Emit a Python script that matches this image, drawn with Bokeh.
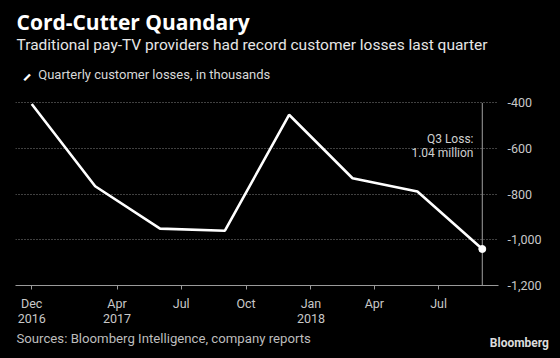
from datetime import datetime
from bokeh.plotting import figure
from bokeh.models import (Range1d, FixedTicker, NumeralTickFormatter, Label, ColumnDataSource,
                          DatetimeAxis)
from bokeh.embed import file_html
from bokeh.resources import INLINE

# ---- data ----
dates = [datetime(2016, 12, 1), datetime(2017, 3, 1), datetime(2017, 6, 1), datetime(2017, 9, 1),
         datetime(2017, 12, 1), datetime(2018, 3, 1), datetime(2018, 6, 1), datetime(2018, 9, 1)]
losses = [-405, -765, -951, -960, -452, -730, -788, -1040]

tick_dates = [datetime(2016, 12, 1), datetime(2017, 4, 1), datetime(2017, 7, 1), datetime(2017, 10, 1),
              datetime(2018, 1, 1), datetime(2018, 4, 1), datetime(2018, 7, 1)]
tick_months = ["Dec", "Apr", "Jul", "Oct", "Jan", "Apr", "Jul"]
year_dates = [datetime(2016, 12, 1), datetime(2017, 4, 1), datetime(2018, 1, 1)]
year_labels = ["2016", "2017", "2018"]
y_ticks = [-1200, -1000, -800, -600, -400]

title_text = "Cord-Cutter Quandary"
subtitle_text = "Traditional pay-TV providers had record customer losses last quarter"
legend_text = "Quarterly customer losses, in thousands"
note_lines = ["Q3 Loss:", "1.04 million"]
source_text = "Sources: Bloomberg Intelligence, company reports"
brand_text = "Bloomberg"

FONT = "Roboto"
EPOCH = datetime(1970, 1, 1)


def ms(d):
    return int((d - EPOCH).total_seconds() * 1000)


tick_ms = [ms(d) for d in tick_dates]
year_ms = [ms(d) for d in year_dates]

p = figure(width=560, height=358, x_axis_type="datetime", y_axis_location="right",
           x_range=Range1d(datetime(2016, 11, 8), datetime(2018, 9, 24)),
           y_range=Range1d(-1200, -385),
           output_backend="svg", toolbar_location=None,
           min_border_left=15, min_border_right=62, min_border_top=99, min_border_bottom=73,
           background_fill_color="black", border_fill_color="black", outline_line_color=None)

# x axis (months)
xa = p.xaxis[0]
xa.ticker = FixedTicker(ticks=tick_ms)
xa.major_label_overrides = dict(zip(tick_ms, tick_months))
xa.axis_line_color = "#9a9a9a"
xa.major_tick_line_color = "#9a9a9a"
xa.major_tick_out = 4
xa.major_tick_in = 0
xa.minor_tick_line_color = None
xa.major_label_text_font = FONT
xa.major_label_text_font_size = "12.5px"
xa.major_label_text_color = "#c8c8c8"
xa.major_label_standoff = 6

# second x axis (years)
yr_axis = DatetimeAxis(ticker=FixedTicker(ticks=year_ms), major_label_overrides=dict(zip(year_ms, year_labels)),
                       axis_line_color=None, major_tick_line_color=None, minor_tick_line_color=None,
                       major_tick_out=0, major_tick_in=0, major_label_standoff=0,
                       major_label_text_font=FONT, major_label_text_font_size="12.5px",
                       major_label_text_color="#c8c8c8")
p.add_layout(yr_axis, "below")

# y axis (right)
ya = p.yaxis[0]
ya.ticker = FixedTicker(ticks=y_ticks)
ya.formatter = NumeralTickFormatter(format="0,0")
ya.axis_line_color = None
ya.major_tick_line_color = None
ya.minor_tick_line_color = None
ya.major_label_text_font = FONT
ya.major_label_text_font_size = "12.5px"
ya.major_label_text_color = "#c8c8c8"
ya.major_label_standoff = 3

p.xgrid.visible = False
p.ygrid.grid_line_color = "#808080"
p.ygrid.grid_line_dash = "1 2"
p.ygrid.grid_line_width = 1

src = ColumnDataSource(data=dict(date=dates, loss=losses))

# vertical marker line at latest quarter
p.segment(x0=[dates[-1]], y0=[y_ticks[-1]], x1=[dates[-1]], y1=[y_ticks[0]],
          line_color="#a0a0a0", line_width=1)
p.line(x="date", y="loss", source=src, line_color="white", line_width=2.6)
p.scatter(x=[dates[-1]], y=[losses[-1]], size=7, color="white")

# annotation text
p.add_layout(Label(x=458, y=140, x_units="screen", y_units="screen", text=note_lines[0],
                   text_align="right", text_font=FONT, text_font_size="12px", text_color="#d0d0d0"))
p.add_layout(Label(x=458, y=126, x_units="screen", y_units="screen", text=note_lines[1],
                   text_align="right", text_font=FONT, text_font_size="12px", text_color="#d0d0d0"))

# header (side panel so it is not clipped to the frame; canvas pixel units)
p.add_layout(Label(x=16, y=35, x_units="canvas", y_units="canvas", text=title_text,
                   text_font="Open Sans", text_font_style="bold", text_font_size="21px",
                   text_color="white"), "above")
p.add_layout(Label(x=16, y=53.3, x_units="canvas", y_units="canvas", text=subtitle_text,
                   text_font=FONT, text_font_size="15.5px", text_color="#e6e6e6"), "above")
p.add_layout(Label(x=26.5, y=76.8, x_units="canvas", y_units="canvas", text="\u2501",
                   angle=45, angle_units="deg", text_align="center", text_baseline="middle",
                   text_font="DejaVu Sans Mono", text_font_size="13px", text_color="white"), "above")
p.add_layout(Label(x=37.7, y=81, x_units="canvas", y_units="canvas", text=legend_text,
                   text_font=FONT, text_font_size="13px", text_color="#d8d8d8"), "above")

# footer
p.add_layout(Label(x=16, y=345.7, x_units="canvas", y_units="canvas", text=source_text,
                   text_font=FONT, text_font_size="13.2px", text_color="#bdbdbd"), "above")
p.add_layout(Label(x=489.3, y=349.3, x_units="canvas", y_units="canvas", text=brand_text,
                   text_font=FONT, text_font_style="bold", text_font_size="12px", text_color="#dcdcdc"), "below")

template = """{% block preamble %}<style>html, body { margin: 0; padding: 0; background: #000; overflow: hidden; }</style>{% endblock %}"""

open("out.html", "w").write(file_html(p, INLINE, template=template))
